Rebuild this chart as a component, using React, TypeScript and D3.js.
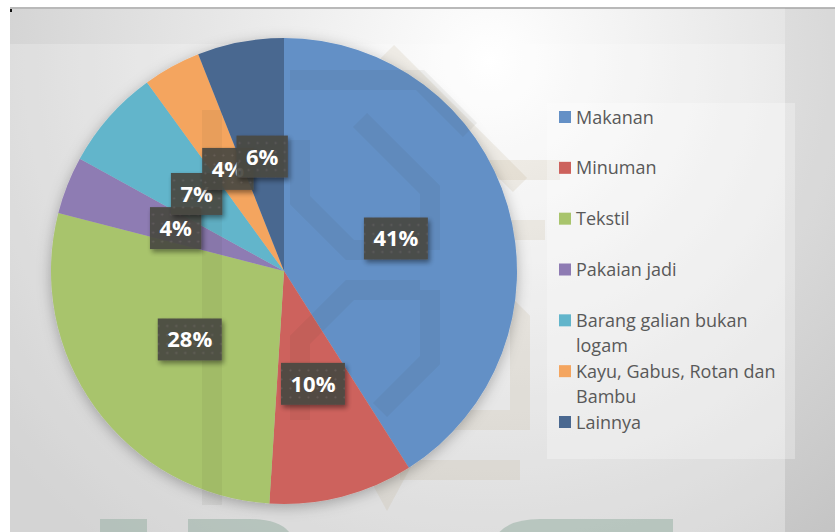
import React, { useMemo } from "react";
import * as d3 from "d3";

const categories = [
  "Makanan",
  "Minuman",
  "Tekstil",
  "Pakaian jadi",
  "Barang galian bukan logam",
  "Kayu, Gabus, Rotan dan Bambu",
  "Lainnya",
];
const values = [41, 10, 28, 4, 7, 4, 6];
const colors = ["#6490c6", "#cd625d", "#a8c46c", "#8e7bb3", "#62b5cb", "#f4a55f", "#4a6890"];

const W = 835;
const H = 532;
const CX = 284;
const CY = 271;
const R = 233;

const LEGEND_FONT = "18px 'Open Sans'";
const LABEL_FONT = "bold 22px 'Open Sans'";

function measure(text: string, font: string): number {
  const c = document.createElement("canvas");
  const ctx = c.getContext("2d")!;
  ctx.font = font;
  return ctx.measureText(text).width;
}

function wrap(text: string, maxW: number): string[] {
  const words = text.split(" ");
  const lines: string[] = [];
  let cur = "";
  for (const w of words) {
    const t = cur ? cur + " " + w : w;
    if (cur && measure(t, LEGEND_FONT) > maxW) {
      lines.push(cur);
      cur = w;
    } else cur = t;
  }
  if (cur) lines.push(cur);
  return lines;
}

export default function App() {
  const pie = d3.pie<number>().sort(null).value((d) => d);
  const arcs = pie(values);
  const arc = d3.arc<d3.PieArcDatum<number>>().innerRadius(0).outerRadius(R);
  const legendY = d3.scaleLinear().domain([0, categories.length - 1]).range([117, 422]);
  const legendLines = useMemo(() => categories.map((c) => wrap(c, 215)), []);
  const fmt = (v: number) => `${Math.round((v / d3.sum(values)) * 100)}%`;

  return (
    <svg width={W} height={H} style={{ position: "fixed", left: 0, top: 0 }} fontFamily="'Open Sans', sans-serif">
      <defs>
        <radialGradient id="bg" cx="490" cy="60" r="620" gradientUnits="userSpaceOnUse">
          <stop offset="0" stopColor="#ffffff" />
          <stop offset="0.35" stopColor="#ececec" />
          <stop offset="0.75" stopColor="#d6d6d6" />
          <stop offset="1" stopColor="#c8c8c8" />
        </radialGradient>
        <filter id="pieShadow" x="-20%" y="-20%" width="140%" height="140%">
          <feDropShadow dx="0" dy="3" stdDeviation="7" floodColor="#000" floodOpacity="0.28" />
        </filter>
        <filter id="boxShadow" x="-30%" y="-30%" width="160%" height="160%">
          <feDropShadow dx="2" dy="3" stdDeviation="2.5" floodColor="#000" floodOpacity="0.45" />
        </filter>
        <pattern id="dots" width="9" height="9" patternUnits="userSpaceOnUse">
          <rect width="9" height="9" fill="#4a4843" />
          <circle cx="4.5" cy="4.5" r="1.1" fill="#5e5c56" />
        </pattern>
      </defs>

      {/* background */}
      <rect x={0} y={0} width={W} height={H} fill="#ffffff" />
      <rect x={10} y={8} width={W - 10} height={H - 8} fill="url(#bg)" />
      <rect x={10} y={7} width={W - 10} height={2} fill="#b9b9b9" />
      <rect x={10} y={44} width={775} height={H - 44} fill="#ffffff" opacity={0.22} />
      <rect x={785} y={8} width={W - 785} height={H - 8} fill="#000" opacity={0.03} />
      <rect x={10} y={9} width={2} height={3} fill="#111" />

      {/* watermark behind */}
      <g fill="none" stroke="#b9a784" strokeOpacity={0.16} strokeWidth={20}>
        <path d="M387,52 L520,185" />
        <path d="M470,170 L560,170" />
        <path d="M470,230 L545,230" />
        <path d="M500,300 L520,320 L520,420 L420,420" />
        <path d="M400,470 L520,470" />
        <path d="M360,440 L387,490 L414,440" />
      </g>
      <rect x={547} y={103} width={248} height={356} fill="#ffffff" opacity={0.28} />
      <g fill="#9fb5aa" opacity={0.6}>
        <rect x={100} y={519} width={47} height={20} />
        <path d="M188,519 L250,519 Q290,519 295,545 L188,545 Z" />
        <path d="M540,519 L673,519 L673,545 L492,545 Q500,519 540,519 Z" />
      </g>

      {/* pie */}
      <g transform={`translate(${CX},${CY})`} filter="url(#pieShadow)">
        {arcs.map((a, i) => (
          <path key={i} d={arc(a)!} fill={colors[i]} />
        ))}
      </g>

      {/* watermark overlay on pie */}
      <g fill="none" stroke="#3a3020" strokeOpacity={0.06} strokeWidth={20}>
        <path d="M212,110 L212,505" />
        <path d="M290,80 L420,80 L470,130" />
        <path d="M300,140 L300,200 L350,250 L420,250" />
        <path d="M300,420 L300,340 L350,290 L420,290" />
        <path d="M360,120 L430,190 L430,250" />
        <path d="M430,290 L430,360 L380,410" />
      </g>

      {/* data labels */}
      {arcs.map((a, i) => {
        const [x, y] = arc.centroid(a);
        const t = fmt(a.value);
        const tw = measure(t, LABEL_FONT);
        const bw = tw + 19;
        const bh = 42;
        return (
          <g key={i} transform={`translate(${CX + x},${CY + y})`}>
            <rect x={-bw / 2} y={-bh / 2} width={bw} height={bh} fill="url(#dots)" opacity={0.93} filter="url(#boxShadow)" />
            <text x={0} y={8} textAnchor="middle" fill="#ffffff" fontSize={22} fontWeight="bold">
              {t}
            </text>
          </g>
        );
      })}

      {/* legend */}
      {categories.map((c, i) => {
        const y = legendY(i);
        return (
          <g key={c}>
            <rect x={559} y={y - 6} width={12} height={12} fill={colors[i]} />
            {legendLines[i].map((ln, j) => (
              <text key={j} x={576} y={y + 6.5 + j * 25.5} fontSize={18} fill="#595959">
                {ln}
              </text>
            ))}
          </g>
        );
      })}
    </svg>
  );
}
